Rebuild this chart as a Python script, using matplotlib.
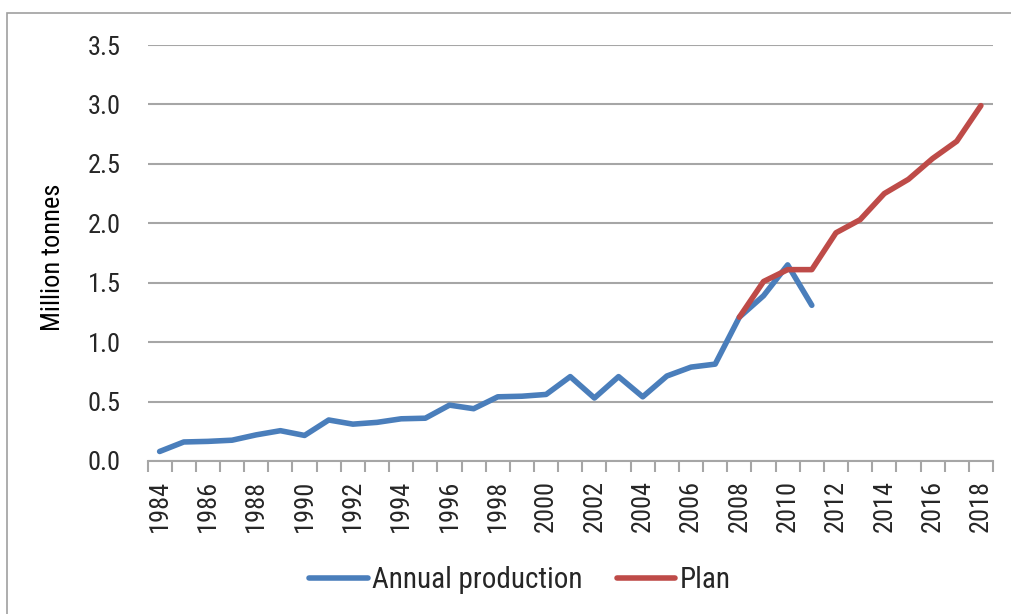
import matplotlib
matplotlib.use("Agg")
from matplotlib import pyplot as plt
from matplotlib.patches import Rectangle
import numpy as np

plt.rcParams['font.family'] = ['Roboto Condensed', 'DejaVu Sans']

# years on the category axis
years = list(range(1984, 2019))

# annual production, million tonnes (1984-2011)
prod_years = list(range(1984, 2012))
production = [0.08, 0.16, 0.165, 0.175, 0.22, 0.255, 0.215, 0.345, 0.31, 0.325,
              0.355, 0.36, 0.47, 0.44, 0.54, 0.545, 0.56, 0.71, 0.53, 0.71,
              0.54, 0.715, 0.79, 0.815, 1.21, 1.39, 1.65, 1.31]

# plan, million tonnes (2008-2018)
plan_years = list(range(2008, 2019))
plan = [1.21, 1.51, 1.61, 1.61, 1.92, 2.03, 2.25, 2.37, 2.545, 2.69, 2.99]

blue = '#4A7EBB'
red = '#BE4B48'
grid_c = '#A6A6A6'
text_c = '#262626'
fs = 19

fig = plt.figure(figsize=(10.12, 6.14), dpi=100)
ax = fig.add_axes([0.1458, 0.2492, 0.9812 - 0.1458, 0.9267 - 0.2492])

# outer frame of the chart area
fig.patches.append(Rectangle((7 / 1012, -0.05), 1.1, 1 - 13 / 614 + 0.05,
                             transform=fig.transFigure, fill=False,
                             edgecolor='#A0A0A0', linewidth=1.2))

pos = {y: i for i, y in enumerate(years)}
ax.plot([pos[y] for y in prod_years], production, color=blue, linewidth=4.0,
        solid_capstyle='round', solid_joinstyle='round', label='Annual production', zorder=3)
ax.plot([pos[y] for y in plan_years], plan, color=red, linewidth=4.0,
        solid_capstyle='round', solid_joinstyle='round', label='Plan', zorder=3)

ax.set_xlim(-0.5, len(years) - 0.5)
ax.set_ylim(0, 3.5)
ax.set_yticks(np.arange(0, 3.51, 0.5))
ax.set_yticklabels([f"{v:.1f}" for v in np.arange(0, 3.51, 0.5)])
ax.yaxis.grid(True, color=grid_c, linewidth=1.5)
ax.set_axisbelow(True)
ax.tick_params(axis='y', length=0, pad=19.5, labelsize=fs, labelcolor=text_c)

# tick marks between categories, labels on every other year
ax.set_xticks(np.arange(-0.5, len(years), 1.0))
ax.set_xticklabels([])
ax.tick_params(axis='x', which='major', length=8, width=1.5, color=grid_c)
ax.set_xticks(range(0, len(years), 2), minor=True)
ax.set_xticklabels([str(y) for y in years[::2]], minor=True, rotation=90)
ax.tick_params(axis='x', which='minor', length=0, pad=13.5, labelsize=fs, labelcolor=text_c)

for s in ['top', 'right', 'left']:
    ax.spines[s].set_visible(False)
ax.spines['bottom'].set_color(grid_c)
ax.spines['bottom'].set_linewidth(1.5)

ax.set_ylabel('Million tonnes', fontsize=fs, color='black')
ax.yaxis.set_label_coords((65 - 147.5) / 845.5, 0.49)

leg = fig.legend(loc='center', bbox_to_anchor=(520 / 1012, 1 - 580 / 614), ncol=2,
                 frameon=False, fontsize=21, handlelength=2.0, handletextpad=0.17,
                 columnspacing=1.15, labelcolor=text_c)
for line in leg.get_lines():
    line.set_linewidth(4.0)
    line.set_solid_capstyle('round')

fig.savefig('out.png', dpi=100)
